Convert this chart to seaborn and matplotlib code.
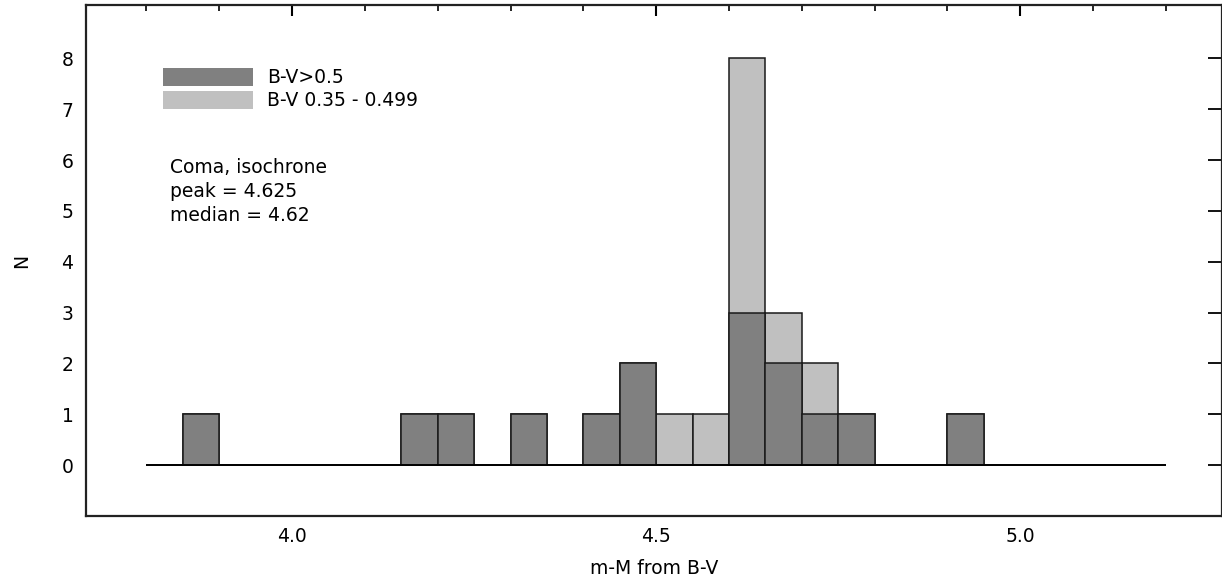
import numpy as np
import pandas as pd
import matplotlib
matplotlib.use("Agg")
import matplotlib.pyplot as plt
import seaborn as sns
from matplotlib.patches import Patch
from matplotlib.ticker import MultipleLocator

# ---- data ----
bin_width = 0.05
hist_range = (3.80, 5.20)
bin_left = [3.85, 4.15, 4.20, 4.30, 4.40, 4.45, 4.50, 4.55, 4.60, 4.65, 4.70, 4.75, 4.90]
dark_counts = [1, 1, 1, 1, 1, 2, 0, 0, 3, 2, 1, 1, 1]     # B-V > 0.5
light_counts = [0, 0, 0, 0, 0, 0, 1, 1, 5, 1, 1, 0, 0]    # B-V 0.35 - 0.499
legend_labels = ["B-V>0.5", "B-V 0.35 - 0.499"]
note_lines = ["Coma, isochrone", "peak = 4.625", "median = 4.62"]
x_major = [4.0, 4.5, 5.0]
y_ticks = [0, 1, 2, 3, 4, 5, 6, 7, 8]

dark_color = "#808080"
light_color = "#c0c0c0"

sns.set_theme(style="white")
plt.rcParams["font.family"] = ["DejaVu Sans"]
plt.rcParams["font.size"] = 13
plt.rcParams["text.color"] = "black"
plt.rcParams["axes.labelcolor"] = "black"
plt.rcParams["xtick.color"] = "black"
plt.rcParams["ytick.color"] = "black"

centers = np.array(bin_left) + bin_width / 2
df = pd.DataFrame({
    "mM": centers,
    "dark": dark_counts,
    "total": np.array(dark_counts) + np.array(light_counts),
})

fig = plt.figure(figsize=(12.22, 5.82), dpi=100)
ax = fig.add_axes([86 / 1222, 66 / 582, 1136 / 1222, 511 / 582])

common = dict(binwidth=bin_width, binrange=hist_range, stat="count",
              element="bars", fill=True, alpha=1.0, edgecolor="#1a1a1a",
              linewidth=1.1, ax=ax)
sns.histplot(data=df, x="mM", weights="total", color=light_color, **common)
sns.histplot(data=df, x="mM", weights="dark", color=dark_color, **common)
ax.hlines(0, hist_range[0], hist_range[1], color="black", lw=1.3, zorder=3)

ax.set_xlim(3.717, 5.277)
ax.set_ylim(-1.0, 9.05)
ax.set_xticks(x_major)
ax.set_xticklabels([f"{v:.1f}" for v in x_major])
ax.xaxis.set_minor_locator(MultipleLocator(0.1))
ax.set_yticks(y_ticks)
ax.tick_params(axis="both", which="both", direction="in", top=True, right=True,
               colors="black", labelsize=13.5)
ax.tick_params(axis="x", which="major", length=8, width=1.5, pad=8)
ax.tick_params(axis="x", which="minor", length=4.5, width=1.2)
ax.tick_params(axis="y", which="major", length=10, width=1.3, pad=9)
for s in ax.spines.values():
    s.set_color("#222222")
    s.set_linewidth(1.6)

ax.set_xlabel("m-M from B-V", fontsize=13.5, labelpad=9)
ax.set_ylabel("N", fontsize=13.5, labelpad=22)

handles = [Patch(facecolor=dark_color, edgecolor="none"),
           Patch(facecolor=light_color, edgecolor="none")]
ax.legend(handles, legend_labels, loc="upper left",
          bbox_to_anchor=(0.0678, 0.877), frameon=False, borderpad=0,
          borderaxespad=0, handlelength=4.8, handleheight=1.1,
          handletextpad=0.75, labelspacing=0.2, fontsize=13.5)

note_y = [0.671, 0.624, 0.577]
for line, yy in zip(note_lines, note_y):
    ax.text(0.074, yy, line, transform=ax.transAxes, fontsize=13.5,
            va="baseline", ha="left")

fig.savefig("out.png", dpi=100)
